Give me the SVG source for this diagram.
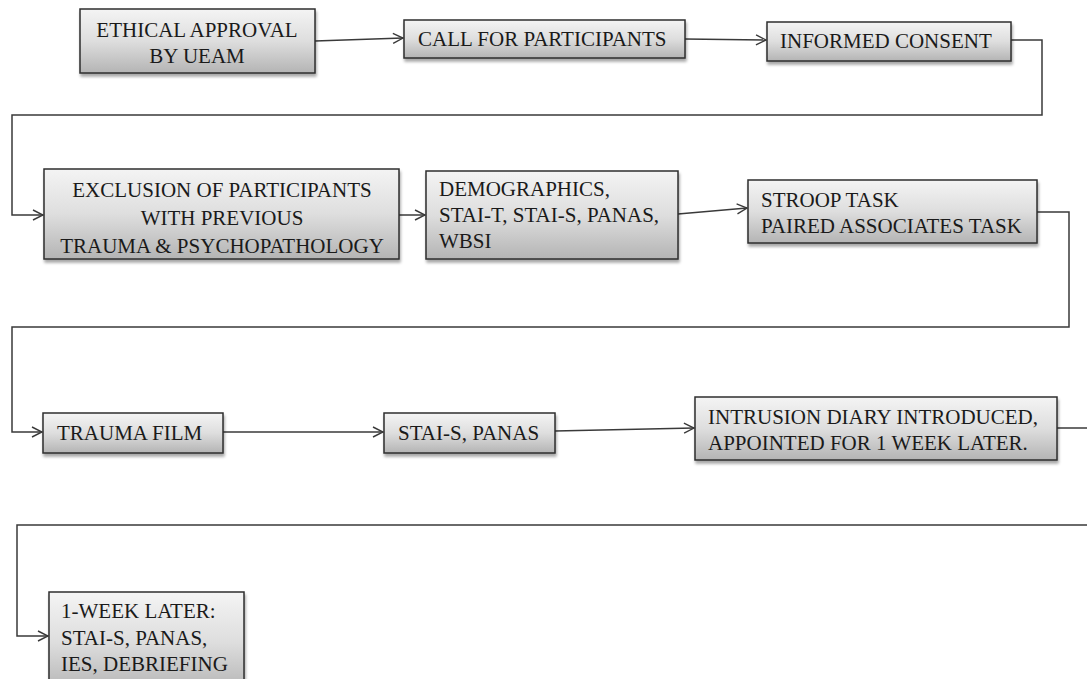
<svg xmlns="http://www.w3.org/2000/svg" width="1087" height="679" viewBox="0 0 1087 679">
<defs>
<linearGradient id="g" x1="0" y1="0" x2="0" y2="1">
<stop offset="0" stop-color="#f4f4f4"/>
<stop offset="0.5" stop-color="#dedede"/>
<stop offset="1" stop-color="#b4b4b4"/>
</linearGradient>
<filter id="sh" x="-5%" y="-10%" width="115%" height="130%">
<feGaussianBlur in="SourceAlpha" stdDeviation="1.5"/>
<feOffset dx="1" dy="3" result="b"/>
<feComponentTransfer><feFuncA type="linear" slope="0.35"/></feComponentTransfer>
<feMerge><feMergeNode/><feMergeNode in="SourceGraphic"/></feMerge>
</filter>
<marker id="ar" viewBox="0 0 12 12" refX="11" refY="6" markerWidth="12" markerHeight="12" markerUnits="userSpaceOnUse" orient="auto">
<path d="M1,1 L11,6 L1,11" fill="none" stroke="#3a3a3a" stroke-width="1.4"/>
</marker>
</defs>
<style>
.box{fill:url(#g);stroke:#2e2e2e;stroke-width:1.5;filter:url(#sh)}
text{font-family:'Liberation Serif','DejaVu Serif',serif;font-size:21px;fill:#1a1a1a}
.c{text-anchor:middle}
.ln{fill:none;stroke:#3a3a3a;stroke-width:1.5}
</style>
<rect width="1087" height="679" fill="#ffffff"/>
<g id="connectors">
<path class="ln" d="M315,41 L403,38" marker-end="url(#ar)"/>
<path class="ln" d="M685,39 L766,40" marker-end="url(#ar)"/>
<path class="ln" d="M1011,40 L1042,40 L1042,115 L12,115 L12,215 L43,215" marker-end="url(#ar)"/>
<path class="ln" d="M399,215 L425,215" marker-end="url(#ar)"/>
<path class="ln" d="M678,214 L747,208" marker-end="url(#ar)"/>
<path class="ln" d="M1037,212 L1069,212 L1069,327 L12,327 L12,432 L42,432" marker-end="url(#ar)"/>
<path class="ln" d="M223,432 L383,432" marker-end="url(#ar)"/>
<path class="ln" d="M555,431 L694,428" marker-end="url(#ar)"/>
<path class="ln" d="M1057,428 L1087,428"/>
<path class="ln" d="M1087,525 L17,525 L17,636 L48,636" marker-end="url(#ar)"/>
</g>
<g id="n1" font-family="'Liberation Serif','DejaVu Serif',serif"><rect class="box" x="80" y="9" width="235" height="64"/>
<text class="c" x="197" y="37">ETHICAL APPROVAL</text>
<text class="c" x="197" y="63">BY UEAM</text></g>
<g id="n2"><rect class="box" x="404" y="20" width="281" height="38"/>
<text x="418" y="46">CALL FOR PARTICIPANTS</text></g>
<g id="n3"><rect class="box" x="767" y="22" width="244" height="39"/>
<text x="780" y="48">INFORMED CONSENT</text></g>
<g id="n4"><rect class="box" x="44" y="169" width="355" height="90"/>
<text class="c" x="222" y="197">EXCLUSION OF PARTICIPANTS</text>
<text class="c" x="222" y="225">WITH PREVIOUS</text>
<text class="c" x="222" y="253">TRAUMA &amp; PSYCHOPATHOLOGY</text></g>
<g id="n5"><rect class="box" x="426" y="171" width="252" height="88"/>
<text x="439" y="196">DEMOGRAPHICS,</text>
<text x="439" y="222">STAI-T, STAI-S, PANAS,</text>
<text x="439" y="248">WBSI</text></g>
<g id="n6"><rect class="box" x="748" y="180" width="289" height="63"/>
<text x="761" y="207">STROOP TASK</text>
<text x="761" y="233">PAIRED ASSOCIATES TASK</text></g>
<g id="n7"><rect class="box" x="43" y="413" width="180" height="40"/>
<text x="57" y="440">TRAUMA FILM</text></g>
<g id="n8"><rect class="box" x="384" y="413" width="171" height="40"/>
<text x="398" y="440">STAI-S, PANAS</text></g>
<g id="n9"><rect class="box" x="695" y="397" width="362" height="63"/>
<text x="708" y="424">INTRUSION DIARY INTRODUCED,</text>
<text x="708" y="450">APPOINTED FOR 1 WEEK LATER.</text></g>
<g id="n10"><rect class="box" x="49" y="592" width="195" height="100"/>
<text x="61" y="618">1-WEEK LATER:</text>
<text x="61" y="645">STAI-S, PANAS,</text>
<text x="61" y="671">IES, DEBRIEFING</text></g>
</svg>
